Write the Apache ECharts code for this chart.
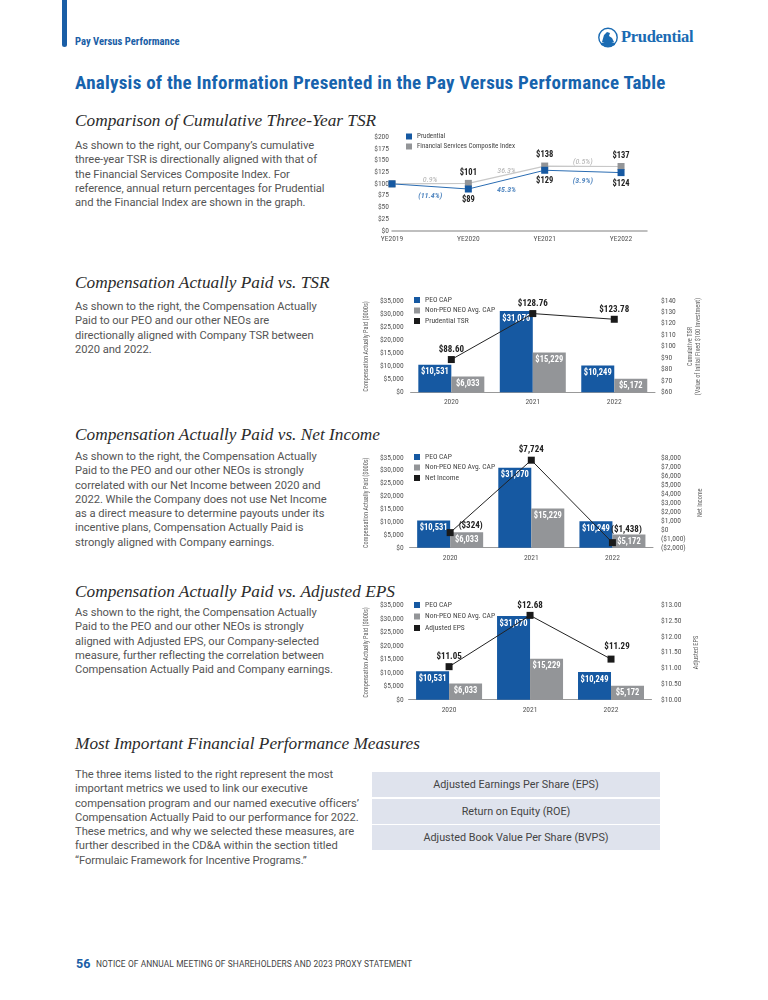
<!DOCTYPE html>
<html><head><meta charset="utf-8">
<script src="https://cdn.jsdelivr.net/npm/echarts@6/dist/echarts.min.js"></script>
<style>
body{margin:0;background:#fff;width:768px;height:1000px;position:relative;overflow:hidden;font-family:Roboto,'Liberation Sans',sans-serif;}
.abs{position:absolute;white-space:nowrap;}
.h2{font-family:'Liberation Serif',serif;font-style:italic;font-size:17.3px;line-height:20px;color:#2b2b2b;}
.p{font-size:11.2px;color:#555;line-height:14.3px;letter-spacing:-0.05px;}
.narrow{font-family:'Liberation Sans Narrow','Roboto Condensed',Roboto,sans-serif;}
.chart{position:absolute;}
.row{position:absolute;left:0;width:288px;height:25px;background:#dfe3ed;text-align:center;line-height:25px;font-size:10.8px;color:#444;}
</style></head>
<body>
<div class="abs" style="left:62px;top:-6px;width:5px;height:53px;background:#1a5ea6;border-radius:3px;"></div>
<div class="abs narrow" style="left:75px;top:35px;font-size:10.6px;font-weight:bold;color:#1a5ea6;">Pay Versus Performance</div>
<svg class="abs" style="left:598px;top:27px" width="20" height="21" viewBox="0 0 20 21">
 <circle cx="10" cy="10.5" r="9.2" fill="#fff" stroke="#1a6bb3" stroke-width="1.4"/>
 <path d="M4 15 L6 8 L9 5 L12 6 L11 9 L14 11 L16 15 Z" fill="#1a6bb3"/>
 <path d="M3 16 Q10 13 17 16 L17 18 Q10 21 3 18 Z" fill="#1a6bb3"/>
</svg>
<div class="abs" style="left:621px;top:27px;font-family:'Liberation Serif',serif;font-weight:bold;font-size:16.5px;color:#1a6bb3;letter-spacing:-0.3px;">Prudential</div>

<div class="abs narrow" style="left:75px;top:72px;font-size:19px;line-height:22px;font-weight:bold;color:#1763ad;letter-spacing:0.25px;">Analysis of the Information Presented in the Pay Versus Performance Table</div>

<div class="abs h2" style="left:75px;top:111px;">Comparison of Cumulative Three-Year TSR</div>
<div class="abs p" style="left:75px;top:139px;">As shown to the right, our Company’s cumulative<br>three-year TSR is directionally aligned with that of<br>the Financial Services Composite Index. For<br>reference, annual return percentages for Prudential<br>and the Financial Index are shown in the graph.</div>

<div class="abs h2" style="left:75px;top:273px;">Compensation Actually Paid vs. TSR</div>
<div class="abs p" style="left:75px;top:300px;">As shown to the right, the Compensation Actually<br>Paid to our PEO and our other NEOs are<br>directionally aligned with Company TSR between<br>2020 and 2022.</div>

<div class="abs h2" style="left:75px;top:425px;">Compensation Actually Paid vs. Net Income</div>
<div class="abs p" style="left:75px;top:450px;">As shown to the right, the Compensation Actually<br>Paid to the PEO and our other NEOs is strongly<br>correlated with our Net Income between 2020 and<br>2022. While the Company does not use Net Income<br>as a direct measure to determine payouts under its<br>incentive plans, Compensation Actually Paid is<br>strongly aligned with Company earnings.</div>

<div class="abs h2" style="left:75px;top:582px;">Compensation Actually Paid vs. Adjusted EPS</div>
<div class="abs p" style="left:75px;top:606px;">As shown to the right, the Compensation Actually<br>Paid to the PEO and our other NEOs is strongly<br>aligned with Adjusted EPS, our Company-selected<br>measure, further reflecting the correlation between<br>Compensation Actually Paid and Company earnings.</div>

<div class="abs h2" style="left:75px;top:734px;">Most Important Financial Performance Measures</div>
<div class="abs p" style="left:75px;top:768px;">The three items listed to the right represent the most<br>important metrics we used to link our executive<br>compensation program and our named executive officers’<br>Compensation Actually Paid to our performance for 2022.<br>These metrics, and why we selected these measures, are<br>further described in the CD&amp;A within the section titled<br>“Formulaic Framework for Incentive Programs.”</div>

<div class="abs" id="measures" style="left:372px;top:772px;width:288px;height:78px;"></div>

<div class="abs" style="left:76px;top:956px;font-size:12.5px;font-weight:bold;color:#1a5ea6;">56</div>
<div class="abs" style="left:96px;top:959px;font-size:8.4px;color:#444;letter-spacing:0.1px;">NOTICE OF ANNUAL MEETING OF SHAREHOLDERS AND 2023 PROXY STATEMENT</div>

<div class="chart" id="c1" style="left:360px;top:128px;width:320px;height:120px;"></div>
<div class="chart" id="c2" style="left:355px;top:290px;width:360px;height:120px;"></div>
<div class="chart" id="c3" style="left:355px;top:440px;width:360px;height:122px;"></div>
<div class="chart" id="c4" style="left:355px;top:598px;width:360px;height:118px;"></div>

<script>
// ---------- data ----------
const tsrYears = ['YE2019', 'YE2020', 'YE2021', 'YE2022'];
const prudentialTSR = [100, 89, 129, 124];
const indexTSR = [100, 101, 138, 137];
const prudentialReturns = ['(11.4%)', '45.3%', '(3.9%)'];
const indexReturns = ['0.9%', '36.3%', '(0.5%)'];

const capYears = ['2020', '2021', '2022'];
const peoCAP = [10531, 31070, 10249];
const nonPeoCAP = [6033, 15229, 5172];
const cumulativeTSR = [88.60, 128.76, 123.78];
const netIncome = [-324, 7724, -1438];
const adjustedEPS = [11.05, 12.68, 11.29];

const measures = ['Adjusted Earnings Per Share (EPS)', 'Return on Equity (ROE)', 'Adjusted Book Value Per Share (BVPS)'];

// ---------- measures table ----------
const mt = document.getElementById('measures');
measures.forEach((m, i) => {
  const d = document.createElement('div');
  d.className = 'row';
  d.style.top = (i * 26.5) + 'px';
  d.textContent = m;
  mt.appendChild(d);
});

// ---------- styles ----------
const BLUE = '#1659a2', GRAY = '#939598', LGRAY = '#c8c8c8', DARK = '#222';
const NARROW = "'Liberation Sans Narrow', 'Roboto Condensed', Roboto, sans-serif";
const fmtK = v => '$' + v.toLocaleString('en-US');
const fmtNeg = v => v < 0 ? '($' + (-v).toLocaleString('en-US') + ')' : '$' + v.toLocaleString('en-US');

// ---------- chart 1 ----------
const c1 = echarts.init(document.getElementById('c1'));
c1.setOption({
  animation: false,
  textStyle: { fontFamily: NARROW },
  legend: {
    orient: 'vertical', left: 46, top: 5, padding: 0, itemWidth: 6, itemHeight: 6, itemGap: 3, icon: 'rect',
    textStyle: { fontSize: 7, color: '#444', fontFamily: NARROW },
    data: ['Prudential', 'Financial Services Composite Index']
  },
  grid: { left: 32, top: 9, width: 255, height: 93.7 },
  xAxis: {
    type: 'value', min: 0, max: 3.34, interval: 1, splitLine: { show: false },
    axisLine: { show: true, lineStyle: { color: '#aaa', width: 1.5 } }, axisTick: { show: false },
    axisLabel: { formatter: v => tsrYears[v] || '', fontSize: 7.5, color: '#555', margin: 4, showMaxLabel: false }
  },
  yAxis: {
    type: 'value', min: 0, max: 200, interval: 25, splitLine: { show: false }, axisLine: { show: false }, axisTick: { show: false },
    axisLabel: { formatter: v => '$' + v, fontSize: 7.5, color: '#555', margin: 3 }
  },
  series: [
    {
      name: 'Financial Services Composite Index', type: 'line', symbol: 'rect', symbolSize: 7,
      data: indexTSR.map((v, i) => ({ value: [i, v], label: { show: i > 0 } })),
      itemStyle: { color: GRAY }, lineStyle: { color: LGRAY, width: 1.2 },
      label: { position: 'top', distance: 3, formatter: p => '$' + p.value[1], fontSize: 8.5, fontWeight: 'bold', color: DARK }
    },
    {
      name: 'Prudential', type: 'line', symbol: 'rect', symbolSize: 7,
      data: prudentialTSR.map((v, i) => ({ value: [i, v], label: { show: i > 0 } })),
      itemStyle: { color: BLUE }, lineStyle: { color: '#2a6cb2', width: 1 },
      label: { position: 'bottom', distance: 3, formatter: p => '$' + p.value[1], fontSize: 8.5, fontWeight: 'bold', color: DARK }
    },
    {
      type: 'scatter', symbolSize: 0, silent: true,
      data: indexReturns.map((t, i) => ({ value: [i + 0.5, (indexTSR[i] + indexTSR[i + 1]) / 2], name: t })),
      label: { show: true, position: 'top', distance: 0, formatter: '{b}', fontStyle: 'italic', fontSize: 8, color: '#999' }
    },
    {
      type: 'scatter', symbolSize: 0, silent: true,
      data: prudentialReturns.map((t, i) => ({ value: [i + 0.5, (prudentialTSR[i] + prudentialTSR[i + 1]) / 2], name: t })),
      label: { show: true, position: 'bottom', distance: 6, formatter: '{b}', fontStyle: 'italic', fontWeight: 'bold', fontSize: 8, color: '#2a6cb2' }
    }
  ]
});

// ---------- CAP charts ----------
function capChart(id, o) {
  const c = echarts.init(document.getElementById(id));
  c.setOption({
    animation: false,
    textStyle: { fontFamily: NARROW },
    legend: {
      orient: 'vertical', left: 59, top: o.legendTop, padding: 0, itemWidth: 6, itemHeight: 6, itemGap: o.legendGap, icon: 'rect',
      textStyle: { fontSize: 7.5, color: '#444', fontFamily: NARROW },
      data: ['PEO CAP', 'Non-PEO NEO Avg. CAP', o.lineName]
    },
    grid: { left: o.left, top: o.top, width: 250, height: o.height },
    xAxis: {
      type: 'category', data: capYears,
      axisLine: { lineStyle: { color: '#999', width: 1 } }, axisTick: { show: false },
      axisLabel: { fontSize: 7.5, color: '#555', margin: o.xMargin }
    },
    yAxis: [
      {
        type: 'value', min: 0, max: 35000, interval: 5000, splitLine: { show: false }, axisLine: { show: false }, axisTick: { show: false },
        axisLabel: { formatter: fmtK, fontSize: 7.5, color: '#555', margin: o.lMargin },
        name: 'Compensation Actually Paid ($000s)', nameLocation: 'middle', nameRotate: 90, nameGap: o.lNameGap,
        nameTextStyle: { fontSize: 6.3, color: '#666' }
      },
      {
        type: 'value', min: o.rMin, max: o.rMax, interval: o.rInt, splitLine: { show: false }, axisLine: { show: false }, axisTick: { show: false },
        axisLabel: { formatter: o.rFmt, fontSize: 7.5, color: '#555', margin: o.rMargin },
        name: o.rName, nameLocation: 'middle', nameRotate: 90, nameGap: o.rNameGap,
        nameTextStyle: { fontSize: 6.3, color: '#666', lineHeight: 8, align: 'center' }
      }
    ],
    series: [
      {
        name: 'PEO CAP', type: 'bar', data: peoCAP, barWidth: 33, barGap: '0%', itemStyle: { color: BLUE },
        label: { show: true, position: 'insideTop', distance: 3, color: '#fff', fontWeight: 'bold', fontSize: 8.5, formatter: p => fmtK(p.value) }
      },
      {
        name: 'Non-PEO NEO Avg. CAP', type: 'bar', data: nonPeoCAP, barWidth: 33, barGap: '0%', itemStyle: { color: GRAY },
        label: { show: true, position: 'insideTop', distance: 3, color: '#fff', fontWeight: 'bold', fontSize: 8.5, formatter: p => fmtK(p.value) }
      },
      {
        name: o.lineName, type: 'line', yAxisIndex: 1, z: 5, symbol: 'rect', symbolSize: 7,
        data: o.lineData.map((v, i) => ({ value: v, label: o.labelCfg ? o.labelCfg[i] : {} })),
        itemStyle: { color: '#1a1a1a' }, lineStyle: { color: '#222', width: 1 },
        label: { show: true, position: 'top', distance: 2, formatter: p => o.lineFmt(p.value), fontWeight: 'bold', fontSize: 9, color: '#222' }
      }
    ]
  });
}

capChart('c2', {
  legendTop: 6, legendGap: 2.5, left: 50, top: 10.7, height: 91.6, xMargin: 6, lMargin: 7, lNameGap: 40,
  rMin: 60, rMax: 140, rInt: 10, rFmt: v => '$' + v, rMargin: 6, rNameGap: 29,
  rName: 'Cumulative TSR\n(Value of Initial Fixed $100 Investment)',
  lineName: 'Prudential TSR', lineData: cumulativeTSR, lineFmt: v => '$' + v.toFixed(2)
});

capChart('c3', {
  legendTop: 13, legendGap: 2.5, left: 48, top: 17.7, height: 90, xMargin: 6, lMargin: 6, lNameGap: 38,
  rMin: -2000, rMax: 8000, rInt: 1000, rFmt: fmtNeg, rMargin: 8, rNameGap: 37,
  rName: 'Net Income',
  lineName: 'Net Income', lineData: netIncome, lineFmt: fmtNeg,
  labelCfg: [{ position: 'right', distance: 5, offset: [0, -7] }, {}, { position: 'top', distance: 5, offset: [14, 0] }]
});

capChart('c4', {
  legendTop: 3, legendGap: 3.5, left: 46.5, top: 7.3, height: 94.4, xMargin: 6, lMargin: 5, lNameGap: 36.5,
  rMin: 10, rMax: 13, rInt: 0.5, rFmt: v => '$' + v.toFixed(2), rMargin: 9.5, rNameGap: 37.5,
  rName: 'Adjusted EPS',
  lineName: 'Adjusted EPS', lineData: adjustedEPS, lineFmt: v => '$' + v.toFixed(2),
  labelCfg: [{}, {}, { offset: [6, -2] }]
});
</script>
</body></html>
